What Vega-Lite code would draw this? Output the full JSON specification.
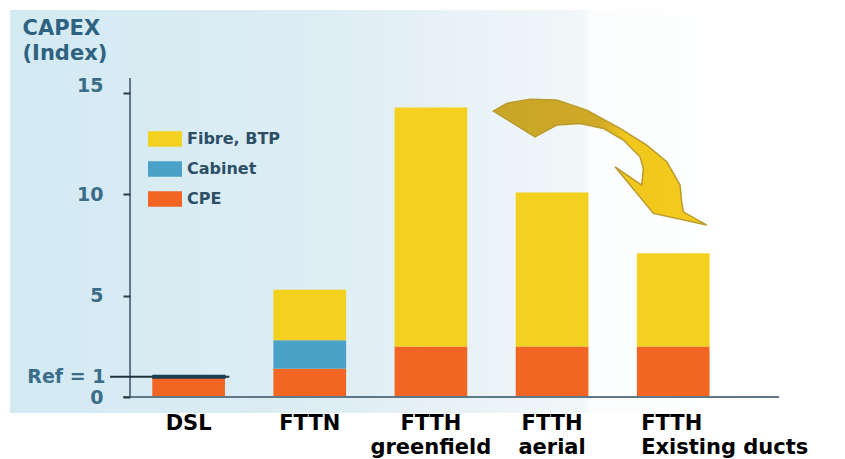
{
  "$schema": "https://vega.github.io/schema/vega-lite/v6.json",
  "width": 769,
  "height": 403,
  "autosize": {"type": "none"},
  "padding": {"left": 10, "top": 10, "right": 66, "bottom": 46},
  "background": "white",
  "config": {"view": {"stroke": null}, "font": "DejaVu Sans"},
  "datasets": {
    "capex": [
      {"tech": "DSL", "part": "CPE", "value": 1},
      {"tech": "FTTN", "part": "CPE", "value": 1.4},
      {"tech": "FTTN", "part": "Cabinet", "value": 1.4},
      {"tech": "FTTN", "part": "Fibre, BTP", "value": 2.5},
      {"tech": "FTTH\ngreenfield", "part": "CPE", "value": 2.5},
      {"tech": "FTTH\ngreenfield", "part": "Fibre, BTP", "value": 11.8},
      {"tech": "FTTH\naerial", "part": "CPE", "value": 2.5},
      {"tech": "FTTH\naerial", "part": "Fibre, BTP", "value": 7.6},
      {"tech": "FTTH\nExisting ducts", "part": "CPE", "value": 2.5},
      {"tech": "FTTH\nExisting ducts", "part": "Fibre, BTP", "value": 4.6}
    ]
  },
  "layer": [
    {
      "data": {"values": [{}]},
      "mark": {
        "type": "rect",
        "fill": {
          "gradient": "linear", "x1": 0, "y1": 0, "x2": 1, "y2": 0,
          "stops": [
            {"offset": 0, "color": "#d3eaf3"},
            {"offset": 0.4, "color": "#ddedf4"},
            {"offset": 0.62, "color": "#eaf3f7"},
            {"offset": 0.745, "color": "#f2f7f9"},
            {"offset": 0.755, "color": "#fbfdfe"},
            {"offset": 1, "color": "#ffffff"}
          ]
        }
      },
      "encoding": {}
    },
    {
      "data": {"name": "capex"},
      "mark": {"type": "bar"},
      "encoding": {
        "x": {
          "field": "tech",
          "type": "nominal",
          "sort": null,
          "scale": {
            "type": "band",
            "domain": ["DSL", "FTTN", "FTTH\ngreenfield", "FTTH\naerial", "FTTH\nExisting ducts"],
            "paddingInner": 0.4,
            "paddingOuter": 0.8737,
            "align": 0.672
          },
          "axis": {
            "orient": "bottom",
            "zindex": 1,
            "domain": false,
            "ticks": false,
            "title": null,
            "labelAngle": 0,
            "labelFont": "DejaVu Sans",
            "labelFontWeight": "bold",
            "labelFontSize": 21,
            "labelColor": "#000000",
            "labelPadding": -1,
            "labelLineHeight": 24,
            "labelLimit": 400,
            "labelOverlap": false,
            "labelBaseline": "top",
            "labelExpr": "split(datum.label, '\\n')",
            "labelAlign": {"condition": {"test": "indexof(datum.value, 'ducts') >= 0", "value": "left"}, "value": "center"},
            "labelOffset": {"condition": {"test": "indexof(datum.value, 'ducts') >= 0", "value": -32}, "value": 0}
          }
        },
        "y": {
          "field": "value",
          "type": "quantitative",
          "stack": "zero",
          "scale": {"domain": [-0.79, 19.111], "nice": false, "zero": false},
          "axis": {
            "orient": "left",
            "zindex": 1,
            "offset": -120,
            "values": [0, 1, 5, 10, 15],
            "domain": false,
            "grid": false,
            "tickSize": 7,
            "tickWidth": 2,
            "tickColor": "#2c3b45",
            "tickOpacity": {"condition": {"test": "datum.value == 1", "value": 0}, "value": 1},
            "labelFont": "DejaVu Sans",
            "labelFontWeight": "bold",
            "labelFontSize": 19,
            "labelColor": "#3b6d8a",
            "labelPadding": {"condition": {"test": "datum.value == 1", "value": 18}, "value": 20},
            "labelOffset": {"condition": {"test": "datum.value == 15", "value": -8}, "value": 0},
            "labelExpr": "datum.value == 1 ? 'Ref = 1' : datum.label",
            "title": ["CAPEX", "(Index)"],
            "titleAngle": 0,
            "titleAlign": "left",
            "titleBaseline": "top",
            "titleX": -108,
            "titleY": 7,
            "titleFont": "DejaVu Sans",
            "titleFontWeight": "bold",
            "titleFontSize": 21,
            "titleColor": "#2f6281",
            "titleLineHeight": 25
          }
        },
        "color": {
          "field": "part",
          "type": "nominal",
          "scale": {
            "domain": ["Fibre, BTP", "Cabinet", "CPE"],
            "range": ["#f4d01f", "#4aa2c8", "#f26522"]
          },
          "legend": {
            "title": null,
            "orient": "none",
            "legendX": 138,
            "legendY": 112,
            "symbolType": "M-1,-0.45L1,-0.45L1,0.45L-1,0.45Z",
            "symbolSize": 1156,
            "symbolStrokeWidth": 0,
            "labelFont": "DejaVu Sans",
            "labelFontWeight": "bold",
            "labelFontSize": 16,
            "labelColor": "#2d4f66",
            "labelOffset": 5,
            "rowPadding": 5
          }
        },
        "order": {"field": "part", "sort": "ascending"}
      }
    },
    {
      "data": {"values": [{}]},
      "mark": {"type": "rule", "color": "#5f7888", "strokeWidth": 2},
      "encoding": {
        "x": {"datum": "DSL", "type": "nominal", "bandPosition": -0.306},
        "y": {"datum": 0, "type": "quantitative"},
        "y2": {"datum": 15.75}
      }
    },
    {
      "data": {"values": [{}]},
      "mark": {"type": "rule", "color": "#5f7888", "strokeWidth": 2},
      "encoding": {
        "x": {"datum": "DSL", "type": "nominal", "bandPosition": -0.402},
        "x2": {"datum": "FTTH\nExisting ducts", "bandPosition": 1.956},
        "y": {"datum": 0, "type": "quantitative"}
      }
    },
    {
      "data": {"values": [{}]},
      "mark": {"type": "rule", "color": "#22343f", "strokeWidth": 2},
      "encoding": {
        "x": {"datum": "DSL", "type": "nominal", "bandPosition": -0.581},
        "x2": {"datum": "DSL", "bandPosition": 1.06},
        "y": {"datum": 1, "type": "quantitative"}
      }
    },
    {
      "data": {"values": [{}]},
      "mark": {"type": "rule", "color": "#1d3d52", "strokeWidth": 4},
      "encoding": {
        "x": {"datum": "DSL", "type": "nominal", "bandPosition": 0},
        "x2": {"datum": "DSL", "bandPosition": 1.01},
        "y": {"datum": 1, "type": "quantitative"}
      }
    },
    {
      "data": {"values": [{}]},
      "mark": {
        "type": "point",
        "shape": "M-0.988,-0.472L-0.864,-0.544L-0.648,-0.583L-0.401,-0.574L-0.123,-0.481L0.185,-0.312L0.432,-0.157L0.618,-0.003L0.741,0.213L0.756,0.368L0.771,0.46L0.988,0.583L0.494,0.475L0.139,0.044L0.386,0.213L0.401,0.058L0.37,-0.049L0.216,-0.204L0.031,-0.312L-0.185,-0.358L-0.401,-0.343L-0.602,-0.234Z",
        "size": 46656,
        "filled": true,
        "opacity": 1,
        "fill": {
          "gradient": "linear", "x1": 0, "y1": 0, "x2": 1, "y2": 0,
          "stops": [
            {"offset": 0, "color": "#c9a528"},
            {"offset": 0.5, "color": "#cfa927"},
            {"offset": 0.62, "color": "#f1c71d"},
            {"offset": 1, "color": "#f4cb1d"}
          ]
        },
        "stroke": "#b99b2d",
        "strokeWidth": 1.5
      },
      "encoding": {
        "x": {"datum": "FTTH\naerial", "type": "nominal", "bandPosition": 1.16},
        "y": {"datum": 11.6, "type": "quantitative"}
      }
    }
  ]
}
